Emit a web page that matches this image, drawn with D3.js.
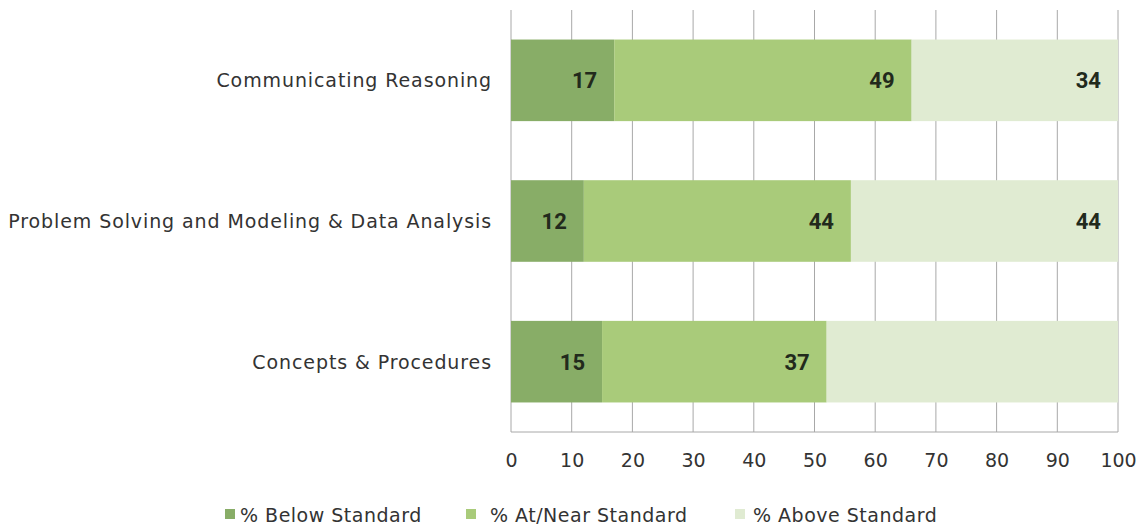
<!DOCTYPE html>
<html>
  <head lang="en">
    <meta charset="utf-8">
    <title>Claim scores</title>
    <script type="text/javascript" src="https://cdn.jsdelivr.net/npm/d3@7"></script>
    <style>
      body { margin: 0; background: #fff; }
      text { font-family: "DejaVu Sans", sans-serif; fill: #333; }
    </style>
  </head>
  <body>
    <script type="text/javascript">

      // data
      var categories = ["Communicating Reasoning", "Problem Solving and Modeling & Data Analysis", "Concepts & Procedures"];
      var series_names = ["% Below Standard", "% At/Near Standard", "% Above Standard"];
      var below = [17, 12, 15];
      var near = [49, 44, 37];
      var above = [34, 44, 48];
      var shown = [[true, true, true], [true, true, true], [true, true, false]];
      var tick_values = [0, 10, 20, 30, 40, 50, 60, 70, 80, 90, 100];
      var colors = ["#88ad67", "#a9cb7a", "#e0ebd2"];

      // svg size and margins
      var margin = {top: 10, right: 23, bottom: 95, left: 511};
      var svg_width = 1141 - margin.left - margin.right;
      var svg_height = 527 - margin.top - margin.bottom;

      var svg = d3.select("body")
                  .append("svg")
                  .attr("width", 1141)
                  .attr("height", 527)
                  .append("g")
                  .attr("transform", "translate(" + margin.left + "," + margin.top + ")");

      var x_scale = d3.scaleLinear().domain([0, 100]).range([0, svg_width]);
      var y_scale = d3.scaleBand().domain(categories).range([0, svg_height]).paddingInner(0.42).paddingOuter(0.21);

      // gridlines
      svg.selectAll(".grid")
         .data(tick_values)
         .enter()
         .append("line")
         .attr("x1", function(d) { return x_scale(d); })
         .attr("x2", function(d) { return x_scale(d); })
         .attr("y1", 0)
         .attr("y2", svg_height)
         .attr("stroke", "#a8a8a8")
         .attr("stroke-width", 1);

      svg.append("line")
         .attr("x1", 0).attr("x2", svg_width)
         .attr("y1", svg_height).attr("y2", svg_height)
         .attr("stroke", "#a8a8a8");

      // stacked rows
      var rows = categories.map(function(c, i) {
        return {cat: c, vals: [below[i], near[i], above[i]], show: shown[i]};
      });

      rows.forEach(function(r) {
        var start = 0;
        r.vals.forEach(function(v, j) {
          svg.append("rect")
             .attr("x", x_scale(start))
             .attr("y", y_scale(r.cat))
             .attr("width", x_scale(start + v) - x_scale(start))
             .attr("height", y_scale.bandwidth())
             .attr("fill", colors[j]);
          if (r.show[j]) {
            svg.append("text")
               .attr("x", x_scale(start + v) - 17)
               .attr("y", y_scale(r.cat) + y_scale.bandwidth() / 2)
               .attr("dy", "0.36em")
               .attr("text-anchor", "end")
               .style("font-family", "Roboto, sans-serif")
               .style("font-weight", "bold")
               .style("font-size", "22px")
               .style("fill", "#222a1c")
               .text(v);
          }
          start += v;
        });
      });

      // category labels
      svg.selectAll(".cat")
         .data(categories)
         .enter()
         .append("text")
         .attr("x", -19)
         .attr("y", function(d) { return y_scale(d) + y_scale.bandwidth() / 2; })
         .attr("dy", "0.36em")
         .attr("text-anchor", "end")
         .style("font-size", "19px")
         .style("letter-spacing", "0.9px")
         .text(function(d) { return d; });

      // x axis tick labels
      var x_axis = svg.append("g")
         .attr("transform", "translate(0," + svg_height + ")")
         .call(d3.axisBottom(x_scale).tickValues(tick_values).tickSize(0).tickPadding(22));
      x_axis.select(".domain").remove();
      x_axis.selectAll("text")
         .style("font-size", "19px")
         .style("font-family", "'DejaVu Sans', sans-serif")
         .attr("fill", "#333");

      // legend
      var legend_x = [-286, -45, 224];
      var legend_gap = [15, 24, 18];
      var legend = svg.selectAll(".legend")
         .data(series_names)
         .enter()
         .append("g")
         .attr("transform", function(d, i) { return "translate(" + legend_x[i] + "," + (svg_height + 90) + ")"; });
      legend.append("rect")
         .attr("x", 0).attr("y", -13)
         .attr("width", 10).attr("height", 10)
         .attr("fill", function(d, i) { return colors[i]; });
      legend.append("text")
         .attr("x", function(d, i) { return legend_gap[i]; })
         .attr("y", 0)
         .style("font-size", "19px")
         .style("letter-spacing", "0.5px")
         .text(function(d) { return d; });
    </script>
  </body>
</html>
